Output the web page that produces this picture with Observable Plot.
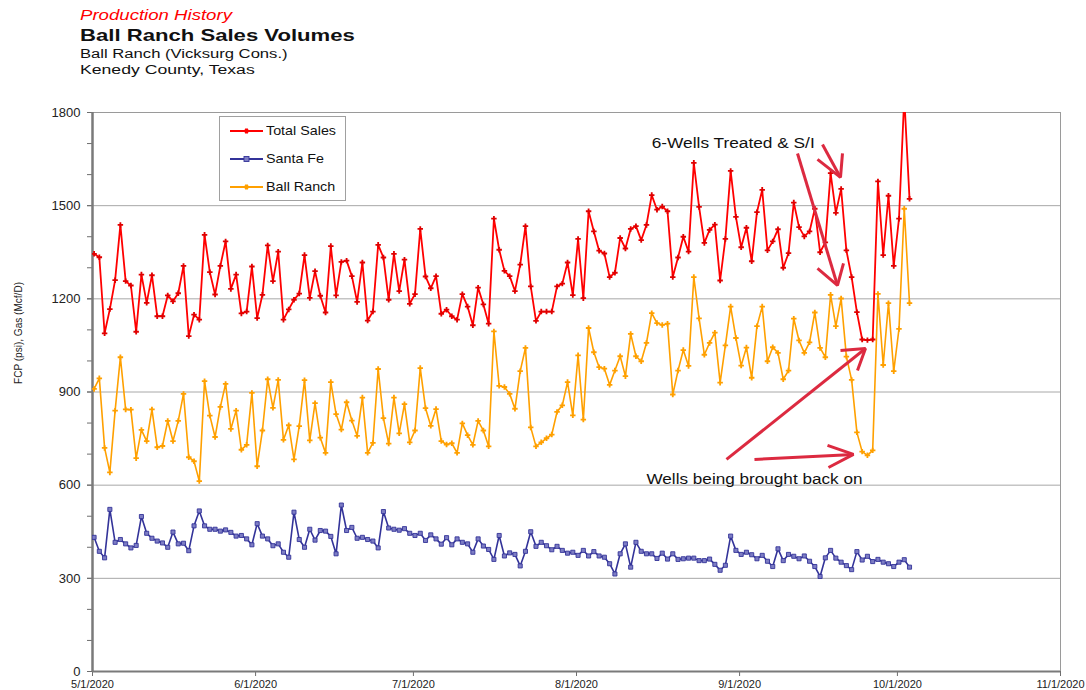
<!DOCTYPE html>
<html>
<head>
<meta charset="utf-8">
<script src="https://cdn.jsdelivr.net/npm/d3@7"></script>
<script src="https://cdn.jsdelivr.net/npm/@observablehq/plot@0.6"></script>
<style>
  body { margin: 0; background: #fff; font-family: "Liberation Sans", Arial, sans-serif; }
  #wrap { position: relative; width: 1086px; height: 690px; overflow: hidden; }
  #chart { position: absolute; left: 0; top: 0; }
  .t { position: absolute; left: 80px; white-space: nowrap; transform-origin: left top; line-height: 1; color: #111; }
  #legend { position: absolute; left: 219px; top: 116px; width: 127px; height: 85px; border: 1px solid #a0a0a0; background: #fff; box-sizing: border-box; }
  .li { position: absolute; left: 10px; height: 14px; font-size: 13.5px; line-height: 14px; color: #111; white-space: nowrap; }
  .li svg { vertical-align: top; margin-right: 3px; }
  .li span { display: inline-block; transform: scaleX(1.06); transform-origin: left center; }
</style>
</head>
<body>
<div id="wrap">
  <div id="chart"></div>
  <div class="t" id="t1" style="top:7px;font-size:15.5px;font-style:italic;color:#ff0000;transform:scaleX(1.2)">Production History</div>
  <div class="t" id="t2" style="top:27px;font-size:16.5px;font-weight:bold;transform:scaleX(1.34)">Ball Ranch Sales Volumes</div>
  <div class="t" id="t3" style="top:48px;font-size:12.5px;transform:scaleX(1.33)">Ball Ranch (Vicksurg Cons.)</div>
  <div class="t" id="t4" style="top:64px;font-size:12.5px;transform:scaleX(1.41)">Kenedy County, Texas</div>
  <div id="legend"></div>
</div>
<script>
// ---------------- data ----------------
const seriesNames = ["Total Sales", "Santa Fe", "Ball Ranch"];
const seriesColors = ["#ff0000", "#333399", "#ffa000"];

// daily values starting 5/1/2020
const totalSales = [
  1345,1334,1089,1167,1260,1438,1257,1243,1094,1278,1187,1276,1144,1144,1211,1192,1218,1306,1080,1149,
  1133,1406,1286,1214,1306,1385,1232,1278,1153,1159,1304,1138,1213,1372,1257,1352,1133,1166,1197,1217,
  1341,1203,1289,1210,1156,1370,1211,1319,1323,1273,1190,1317,1130,1159,1374,1333,1197,1345,1225,1326,
  1184,1215,1425,1272,1234,1273,1152,1165,1144,1133,1215,1175,1115,1236,1182,1120,1458,1358,1290,1273,
  1225,1310,1434,1240,1129,1159,1159,1159,1240,1249,1317,1212,1393,1202,1482,1417,1355,1346,1270,1284,
  1396,1362,1425,1434,1389,1438,1534,1487,1497,1482,1270,1333,1400,1352,1638,1496,1380,1422,1439,1259,
  1393,1612,1464,1366,1429,1321,1479,1551,1356,1385,1424,1300,1347,1510,1431,1401,1417,1490,1350,1382,
  1605,1477,1554,1356,1270,1157,1069,1067,1069,1578,1341,1532,1306,1458,1850,1522
];
const santaFe = [
  432,387,366,522,416,425,411,398,406,499,445,429,420,414,400,449,411,413,389,469,
  517,469,458,458,452,456,448,436,438,427,408,476,436,427,405,411,384,368,513,425,
  400,458,423,454,452,435,379,536,454,464,429,432,425,420,398,515,462,458,455,460,
  445,438,445,422,440,427,410,431,408,427,416,411,384,427,404,393,361,438,372,382,
  377,340,387,450,403,416,405,392,403,390,381,384,374,390,372,386,372,368,347,314,
  379,411,336,416,387,379,379,364,381,362,379,361,363,365,365,357,357,362,345,326,
  342,436,390,377,384,376,363,374,355,338,395,357,377,371,363,372,355,338,306,366,
  390,365,352,341,328,386,359,371,354,361,352,347,338,352,360,336
];
const ballRanch = [
  910,944,720,641,840,1012,844,843,687,778,742,844,722,726,807,742,807,894,690,677,
  613,935,824,755,852,926,781,840,714,730,897,661,776,941,849,939,746,793,683,790,
  938,744,864,753,704,932,829,779,867,808,759,882,704,736,974,816,734,882,767,861,
  738,776,977,848,791,845,742,731,735,704,799,761,730,807,776,725,1095,920,916,894,
  846,967,1042,786,725,738,751,763,836,857,932,825,1018,811,1106,1028,980,975,923,969,
  1015,951,1087,1015,999,1058,1154,1122,1116,1120,892,969,1035,984,1270,1137,1020,1058,1091,930,
  1050,1175,1074,985,1043,946,1112,1175,999,1044,1026,941,969,1136,1066,1026,1060,1156,1042,1012,
  1213,1112,1201,1014,939,770,708,696,712,1216,987,1186,967,1103,1490,1186
];

const yTickValues = [0, 300, 600, 900, 1200, 1500, 1800];
const yMinorTicks = d3.range(0, 1801, 100);
const xTickLabels = ["5/1/2020", "6/1/2020", "7/1/2020", "8/1/2020", "9/1/2020", "10/1/2020", "11/1/2020"];
const yAxisLabel = "FCP (psi), Gas (Mcf/D)";

// annotations: day offset from 5/1/2020 and value
const annotationTexts = [
  {day: 106.3, value: 1703, text: "6-Wells Treated & S/I", width: 163},
  {day: 105.3, value: 621, text: "Wells being brought back on", width: 216}
];
// each arrow: shaft start, tip, and the two head-arm ends
const arrowStart = [{d: 138.76, v: 1697}, {d: 134.01, v: 1668}, {d: 120.51, v: 683}, {d: 125.83, v: 683}];
const arrowTip   = [{d: 142.18, v: 1591}, {d: 141.61, v: 1243}, {d: 146.93, v: 1040}, {d: 144.65, v: 699}];
const arrowArmA  = [{d: 137.81, v: 1649}, {d: 137.81, v: 1298}, {d: 142.18, v: 1034}, {d: 139.71, v: 728}];
const arrowArmB  = [{d: 142.56, v: 1668}, {d: 142.75, v: 1314}, {d: 145.41, v: 969}, {d: 139.90, v: 657}];

// ---------------- build ----------------
const start = Date.UTC(2020, 4, 1);
const dayMs = 864e5;
const dateOf = d => new Date(start + d * dayMs);
const parseTick = s => { const [m, d, y] = s.split("/").map(Number); return new Date(Date.UTC(y, m - 1, d)); };
const xTicks = xTickLabels.map(parseTick);
const fmtTick = d => `${d.getUTCMonth() + 1}/${d.getUTCDate()}/${d.getUTCFullYear()}`;

const seriesValues = [totalSales, santaFe, ballRanch];
const rows = seriesValues.map((vals, s) => vals.map((v, i) => ({date: dateOf(i + 0.3), value: v, series: seriesNames[s]})));

const lineMarks = [];
rows.forEach((data, s) => {
  lineMarks.push(Plot.line(data, {x: "date", y: "value", stroke: seriesColors[s], strokeWidth: s === 0 ? 1.8 : 1.6, clip: true}));
});
lineMarks.push(Plot.dot(rows[2], {x: "date", y: "value", symbol: "cross", r: 2.3, fill: seriesColors[2], clip: true}));
lineMarks.push(Plot.dot(rows[1], {x: "date", y: "value", symbol: "square", r: 2.3, fill: "#7d7dc4", stroke: seriesColors[1], strokeWidth: 0.9, clip: true}));
lineMarks.push(Plot.dot(rows[0], {x: "date", y: "value", symbol: "cross", r: 2.3, fill: "#e00000", clip: true}));

// arrow paths (shaft + head) as polylines
const arrowPaths = [];
arrowStart.forEach((s, i) => {
  arrowPaths.push({id: `s${i}`, ...s}, {id: `s${i}`, ...arrowTip[i]});
  arrowPaths.push({id: `h${i}`, ...arrowArmA[i]}, {id: `h${i}`, ...arrowTip[i]}, {id: `h${i}`, ...arrowArmB[i]});
});

const chart = Plot.plot({
  width: 1086,
  height: 690,
  marginLeft: 92,
  marginRight: 26,
  marginTop: 112,
  marginBottom: 19,
  x: {type: "utc", domain: [xTicks[0], xTicks[xTicks.length - 1]]},
  y: {domain: [0, 1800]},
  style: {fontFamily: "'Liberation Sans', Arial, sans-serif", fontSize: "13px", color: "#222", background: "transparent"},
  marks: [
    Plot.gridY(yTickValues.filter(v => v > 0), {stroke: "#a8a8a8", strokeOpacity: 1, strokeWidth: 1}),
    Plot.frame({stroke: "#9a9a9a"}),
    Plot.axisY(yMinorTicks, {tickSize: 5, text: null, stroke: "#6e6e6e", label: null}),
    Plot.axisY(yTickValues, {tickSize: 5, tickPadding: 7, fontSize: 13, tickFormat: d => String(d), stroke: "#6e6e6e", label: null}),
    Plot.axisX(xTicks, {tickSize: 5, tickPadding: 4, fontSize: 11, tickFormat: fmtTick, stroke: "#6e6e6e", label: null}),
    Plot.ruleX([xTicks[0]], {stroke: "#7a7a7a", strokeWidth: 2.5}),
    Plot.ruleY([0], {stroke: "#7a7a7a", strokeWidth: 2}),
    Plot.text([yAxisLabel], {frameAnchor: "left", rotate: -90, dx: -74, dy: -8, fontSize: 10.5, fill: "#222"}),
    ...lineMarks,
    Plot.line(arrowPaths, {x: d => dateOf(d.d), y: "v", z: "id", stroke: "#dc2a40", strokeWidth: 3, strokeLinejoin: "miter", strokeLinecap: "butt"}),
    Plot.text(annotationTexts, {x: d => dateOf(d.day), y: "value", text: "text", textAnchor: "start", fontSize: 15.5, fill: "#111"})
  ]
});
document.getElementById("chart").appendChild(chart);

// stretch annotation and axis-label texts to the reference widths
chart.querySelectorAll("text").forEach(el => {
  const a = annotationTexts.find(t => t.text === el.textContent);
  if (a) { el.setAttribute("textLength", a.width); el.setAttribute("lengthAdjust", "spacingAndGlyphs"); }
  if (el.textContent === yAxisLabel) { el.setAttribute("textLength", 102); el.setAttribute("lengthAdjust", "spacingAndGlyphs"); }
});

// legend
const legend = document.getElementById("legend");
seriesNames.forEach((name, i) => {
  const item = document.createElement("div");
  item.className = "li";
  item.style.top = (7 + i * 28) + "px";
  const sym = i === 1
    ? `<rect x="14" y="4.5" width="5" height="5" fill="#7d7dc4" stroke="${seriesColors[i]}" stroke-width="0.9"/>`
    : `<path d="M14.5,5.5h4v3h-4zM15,4.5h3v5h-3z" fill="${seriesColors[i]}"/>`;
  item.innerHTML = `<svg width="33" height="14"><line x1="0" y1="7" x2="33" y2="7" stroke="${seriesColors[i]}" stroke-width="1.8"/>${sym}</svg><span>${name}</span>`;
  legend.appendChild(item);
});
</script>
</body>
</html>
